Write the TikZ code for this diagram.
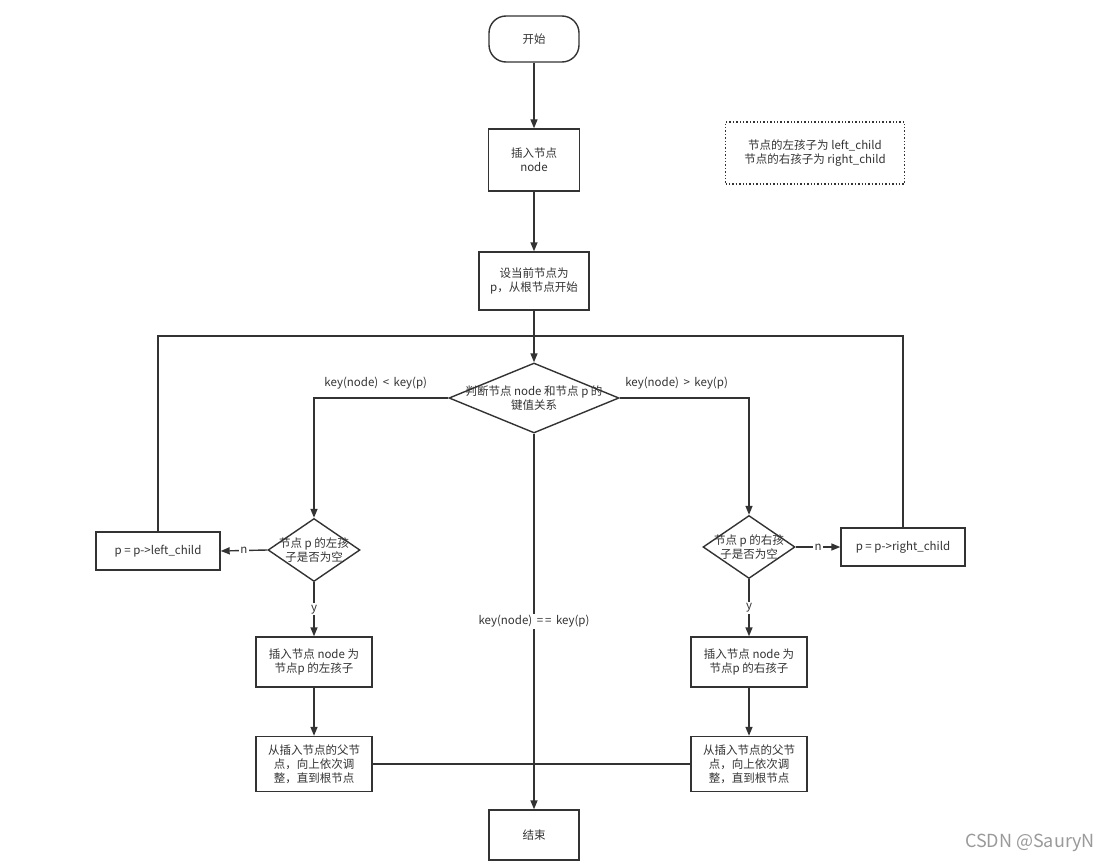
\documentclass[tikz,border=0pt]{standalone}
\usepackage{fontspec}
\setmainfont{Noto Sans CJK SC}
\usetikzlibrary{arrows.meta,positioning,shapes.geometric}
\definecolor{ink}{HTML}{333333}
\definecolor{wm}{HTML}{9A9A9A}
\tikzset{
  >={Triangle[length=9pt,width=7pt]},
  shp/.style={draw=ink,line width=1.4pt,text=ink,font=\fontsize{11.5}{14}\selectfont,align=center,inner sep=2pt,fill=white},
  term/.style={shp,rounded corners=17pt,minimum width=90pt,minimum height=46pt},
  box/.style={shp,minimum width=91pt,minimum height=62pt},
  cbox/.style={shp,minimum width=116pt,minimum height=50pt},
  dec/.style={shp,diamond,inner sep=0pt,minimum width=92pt,minimum height=63pt},
  note/.style={shp,dotted,line width=1.1pt,minimum width=179pt,minimum height=62pt},
  txt/.style={font=\fontsize{11.5}{14}\selectfont,text=ink,align=center,inner sep=0pt},
  lab/.style={font=\fontsize{11.5}{14}\selectfont,text=ink,fill=white,inner sep=1.5pt},
  arr/.style={->,draw=ink,line width=1.4pt},
  conn/.style={draw=ink,line width=1.4pt},
}
\begin{document}
\begin{tikzpicture}[x=1pt,y=-1pt]
\useasboundingbox[fill=white] (0,0) rectangle (1101,864);
\node[term] (start) at (534,39) {开始};
\node[box] (ins) at (534,160) {插入节点\\node};
\node[box,minimum width=110pt,minimum height=58pt] (setp) at (534,281) {设当前节点为\\p，从根节点开始};
\node[dec,minimum width=170pt,minimum height=70pt] (judge) at (534,398) {};
\node[txt] (judgeT) at (judge.center) {判断节点 node 和节点 p 的\\键值关系};
\node[note] (memo) at (815,153) {节点的左孩子为 left\_child\\节点的右孩子为 right\_child};
\node[dec] (ldec) at (314,550) {};
\node[txt] (ldecT) at (ldec.center) {节点 p 的左孩\\子是否为空};
\node[dec] (rdec) at (749,547) {};
\node[txt] (rdecT) at (rdec.center) {节点 p 的右孩\\子是否为空};
\node[shp,minimum width=124pt,minimum height=38pt] (lchild) at (158,551) {p = p->left\_child};
\node[shp,minimum width=124pt,minimum height=38pt] (rchild) at (903,547) {p = p->right\_child};
\node[cbox] (lins) at (314,662) {插入节点 node 为\\节点p 的左孩子};
\node[cbox,minimum height=55pt] (ladj) at (314,764) {从插入节点的父节\\点，向上依次调\\整，直到根节点};
\node[cbox] (rins) at (749,662) {插入节点 node 为\\节点p 的右孩子};
\node[cbox,minimum height=55pt] (radj) at (749,764) {从插入节点的父节\\点，向上依次调\\整，直到根节点};
\node[shp,minimum width=90pt,minimum height=50pt] (end) at (534,835) {结束};
\node[text=wm,font=\fontsize{18}{20}\selectfont] (mark) at (1030,843) {CSDN @SauryN};
\coordinate (loop) at (534,336);
\draw[arr] (start) -- (ins);
\draw[arr] (ins) -- (setp);
\draw[conn] (lchild.north) |- (loop);
\draw[conn] (rchild.north) |- (loop);
\draw[arr] (setp) -- (judge);
\draw[arr] (judge.west) -| node[lab,pos=0.27,above=7pt] {key(node) \,<\, key(p)} (ldec.north);
\draw[arr] (judge.east) -| node[lab,pos=0.22,above=7pt] {key(node) \,>\, key(p)} (rdec.north);
\draw[arr] (ldec.west) -- node[lab] {n} (lchild.east);
\draw[arr] (rdec.east) -- node[lab] {n} (rchild.west);
\draw[arr] (ldec) -- node[lab] {y} (lins);
\draw[arr] (rdec) -- node[lab] {y} (rins);
\draw[arr] (lins) -- (ladj);
\draw[arr] (rins) -- (radj);
\draw[conn] (ladj) -- (radj);
\draw[arr] (judge.south) -- node[lab] {key(node) \,=\,=\, key(p)} (end.north);
\end{tikzpicture}
\end{document}
